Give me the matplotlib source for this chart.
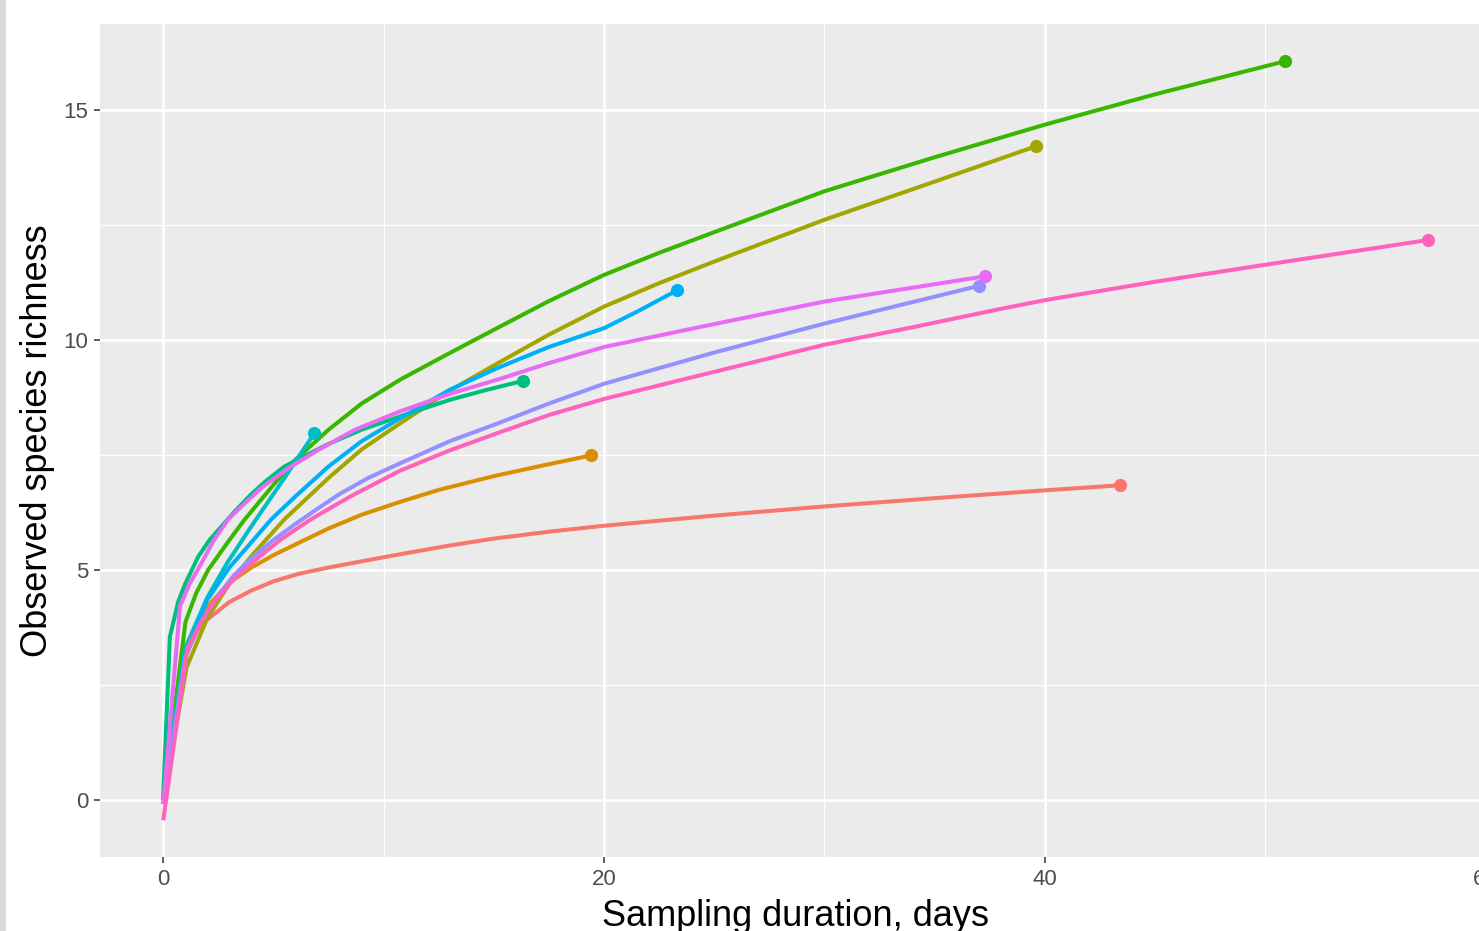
import matplotlib
matplotlib.use("Agg")
import matplotlib.pyplot as plt
from matplotlib.patches import Rectangle
from matplotlib.ticker import MultipleLocator

plt.rcParams['font.family'] = ['Liberation Sans', 'DejaVu Sans']

# ---- data ----
red_x = [0, 1, 1.5, 2, 3, 4, 5, 6.2, 7.5, 8.94, 10.75, 13, 15, 17.5, 20, 25, 30, 35, 40, 43.4]
red_y = [0, 3.2, 3.65, 3.92, 4.3, 4.55, 4.75, 4.92, 5.05, 5.18, 5.34, 5.53, 5.68, 5.83, 5.96, 6.18, 6.38, 6.56, 6.73, 6.84]

orange_x = [0, 1, 1.5, 2, 3, 4, 5, 6.2, 7.5, 9, 10.75, 12.5, 15, 17.5, 19.4]
orange_y = [0, 3.3, 3.8, 4.2, 4.72, 5.05, 5.32, 5.6, 5.9, 6.2, 6.48, 6.74, 7.04, 7.3, 7.49]

olive_x = [0, 1.06, 2, 3, 4, 5.5, 7.5, 9, 10.75, 13, 15.3, 17.5, 20, 22.5, 25, 30, 35, 39.6]
olive_y = [0, 2.88, 3.95, 4.7, 5.3, 6.1, 7.0, 7.62, 8.19, 8.9, 9.53, 10.12, 10.73, 11.24, 11.71, 12.62, 13.45, 14.22]

green_x = [0, 1.01, 1.5, 2.04, 3, 3.7, 5, 6, 7.5, 9, 10.75, 13, 15.3, 17.5, 20, 22.5, 25, 30, 35, 40, 45, 50.9]
green_y = [0, 3.87, 4.5, 5.0, 5.65, 6.1, 6.85, 7.4, 8.05, 8.62, 9.14, 9.72, 10.3, 10.85, 11.42, 11.9, 12.35, 13.24, 13.98, 14.69, 15.35, 16.07]

teal_x = [0, 0.3, 0.68, 1.0, 1.59, 2.1, 2.65, 3.3, 4, 4.7, 5.5, 6.5, 7.5, 9, 10.75, 13, 14.7, 16.3]
teal_y = [0.1, 3.54, 4.31, 4.7, 5.29, 5.65, 5.95, 6.3, 6.65, 6.95, 7.25, 7.5, 7.74, 8.05, 8.34, 8.7, 8.92, 9.11]

cyan_x = [0, 1, 2, 2.9, 4, 5.5, 6.85]
cyan_y = [0, 3.3, 4.4, 5.15, 5.95, 7.0, 7.97]

blue_x = [0, 1, 2, 3, 4, 4.9, 6, 7.5, 9, 10.75, 13, 15.3, 17.5, 20, 21.5, 23.3]
blue_y = [0, 3.1, 4.35, 5.05, 5.6, 6.1, 6.6, 7.25, 7.8, 8.3, 8.92, 9.42, 9.85, 10.26, 10.62, 11.08]

purple_x = [0, 1, 1.7, 2.5, 3.2, 4, 5, 6, 7, 8, 9.3, 10.75, 13, 15.3, 17.5, 20, 25, 30, 33.5, 37.0]
purple_y = [-0.1, 3.1, 3.85, 4.45, 4.88, 5.25, 5.65, 6.0, 6.33, 6.65, 7.0, 7.32, 7.8, 8.21, 8.62, 9.05, 9.73, 10.36, 10.77, 11.18]

violet_x = [0, 0.76, 1.2, 1.74, 2.3, 2.95, 3.7, 4.5, 5.7, 7, 8.7, 10.75, 13, 15.3, 17.5, 20, 25, 30, 37.3]
violet_y = [-0.1, 4.21, 4.7, 5.15, 5.65, 6.1, 6.45, 6.8, 7.22, 7.6, 8.05, 8.45, 8.83, 9.16, 9.5, 9.85, 10.35, 10.84, 11.39]

pink_x = [0, 1.1, 1.7, 2.3, 3.2, 4.1, 5.3, 6.7, 8.5, 10.75, 13, 15.3, 17.5, 20, 25, 30, 34, 38, 40, 45, 50, 57.4]
pink_y = [-0.45, 3.3, 3.85, 4.3, 4.8, 5.18, 5.65, 6.1, 6.6, 7.16, 7.6, 8.0, 8.37, 8.72, 9.31, 9.9, 10.28, 10.68, 10.87, 11.27, 11.64, 12.18]

series = [
    (red_x, red_y, '#F8766D'),
    (orange_x, orange_y, '#D89000'),
    (olive_x, olive_y, '#A3A500'),
    (green_x, green_y, '#39B600'),
    (teal_x, teal_y, '#00BF7D'),
    (cyan_x, cyan_y, '#00BFC4'),
    (blue_x, blue_y, '#00B0F6'),
    (purple_x, purple_y, '#9590FF'),
    (violet_x, violet_y, '#E76BF3'),
    (pink_x, pink_y, '#FF62BC'),
]

x_ticks = [0, 20, 40, 60]
y_ticks = [0, 5, 10, 15]
x_label = "Sampling duration, days"
y_label = "Observed species richness"

# ---- figure ----
W, H = 1479, 931
fig = plt.figure(figsize=(W / 100, H / 100), dpi=100)
fig.patch.set_facecolor('white')
fig.patches.append(Rectangle((0, 0), 6 / W, 1, transform=fig.transFigure,
                             facecolor='#d9d9d9', edgecolor='none', zorder=0))

left, right, top, bottom = 100, 1491, 24, 857
ax = fig.add_axes([left / W, (H - bottom) / H, (right - left) / W, (bottom - top) / H])
ax.set_facecolor('#EBEBEB')
for s in ax.spines.values():
    s.set_visible(False)

ax.set_xlim(-2.87, 60.24)
ax.set_ylim(-1.25, 16.88)
ax.set_xticks(x_ticks)
ax.set_yticks(y_ticks)
ax.xaxis.set_minor_locator(MultipleLocator(10))
ax.yaxis.set_minor_locator(MultipleLocator(2.5))
ax.grid(which='major', color='white', linewidth=1.8)
ax.grid(which='minor', color='white', linewidth=0.9)
ax.set_axisbelow(True)
ax.tick_params(which='major', length=4.5, width=1.1, color='#333333',
               labelsize=16, labelcolor='#4D4D4D', pad=4)
ax.tick_params(which='minor', length=0)

for xs, ys, c in series:
    ax.plot(xs, ys, color=c, linewidth=2.9, solid_capstyle='butt',
            solid_joinstyle='round', zorder=3)
    ax.plot(xs[-1], ys[-1], 'o', color=c, markersize=9.5, markeredgewidth=0, zorder=4)

ax.set_xlabel(x_label, fontsize=26, color='black')
ax.set_ylabel(y_label, fontsize=26, color='black')
ax.xaxis.set_label_coords(0.5, -0.051)
ax.xaxis.label.set_va('top')
ax.yaxis.set_label_coords(-0.045, 0.5)
ax.yaxis.label.set_va('center')

fig.savefig('out.png', dpi=100)
